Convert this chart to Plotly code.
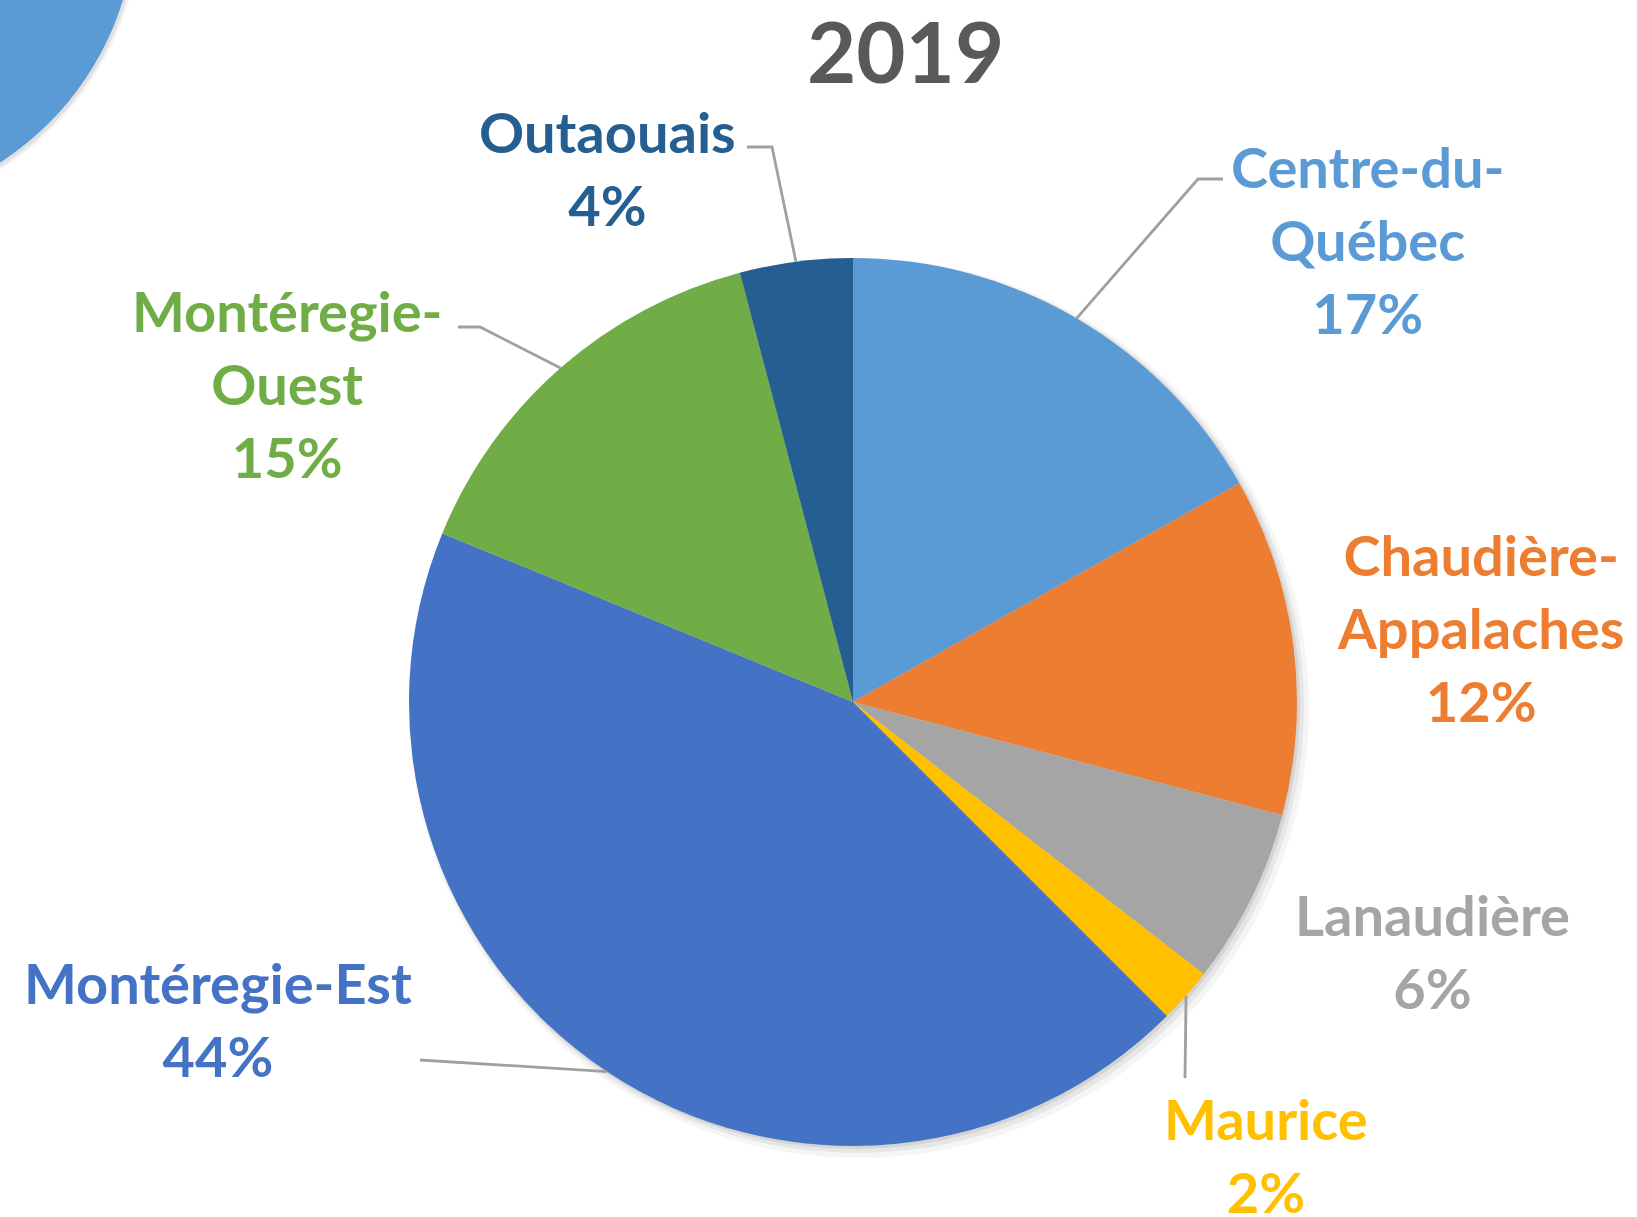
import math
import plotly.graph_objects as go

# ---------------- data ----------------
categories = ["Centre-du-Québec", "Chaudière-Appalaches", "Lanaudière", "Maurice",
              "Montéregie-Est", "Montéregie-Ouest", "Outaouais"]
label_lines = ["Centre-du-<br>Québec", "Chaudière-<br>Appalaches", "Lanaudière", "Maurice",
               "Montéregie-Est", "Montéregie-<br>Ouest", "Outaouais"]
values = [16.8, 12.3, 6.4, 2.0, 43.7, 14.7, 4.1]
title_text = "2019"

# ---------------- styles / layout ----------------
W, H = 1637, 1217
colors = ["#5B9BD5", "#ED7D31", "#A5A5A5", "#FFC000", "#4472C4", "#70AD47", "#255E91"]
CX, CY, R = 853, 702, 444  # pie centre/radius in pixels
FONT = "Lato"
LABEL_SIZE = 56

# label block centres (pixels) and leader elbows (pixels), per category
label_pos = {
    "Centre-du-Québec": (1368, 239),
    "Chaudière-Appalaches": (1480, 627),
    "Lanaudière": (1432, 951),
    "Maurice": (1266, 1155),
    "Montéregie-Est": (218, 1019),
    "Montéregie-Ouest": (287, 383),
    "Outaouais": (607, 168),
}
leader_pts = {
    "Centre-du-Québec": [(1223, 179), (1198, 179)],
    "Maurice": [(1185, 1078)],
    "Montéregie-Est": [(420, 1060)],
    "Montéregie-Ouest": [(458, 327), (480, 327)],
    "Outaouais": [(747, 147), (772, 147)],
}


def px(x):
    return x / W


def py(y):
    return 1 - y / H


fig = go.Figure()

fig.add_trace(go.Pie(
    labels=categories,
    values=values,
    sort=False,
    direction="clockwise",
    rotation=0,
    marker=dict(colors=colors, line=dict(width=0)),
    textinfo="none",
    hoverinfo="label+percent",
    showlegend=False,
    domain=dict(x=[px(CX - R), px(CX + R)], y=[py(CY + R), py(CY - R)]),
))

shapes = []
# soft shadow under the pie
for off, extra, alpha in [(6, 6, 0.04), (4, 3, 0.06), (2, 1, 0.08)]:
    shapes.append(dict(type="circle", xref="paper", yref="paper", layer="below",
                       x0=px(CX - R - extra + off), x1=px(CX + R + extra + off),
                       y0=py(CY + R + extra + off), y1=py(CY - R - extra + off),
                       fillcolor=f"rgba(0,0,0,{alpha})", line=dict(width=0)))

# partial circle of neighbouring chart at top-left
bcx, bcy, br = -161, -87, 297
for off, alpha in [(5, 0.05), (3, 0.07)]:
    shapes.append(dict(type="circle", xref="paper", yref="paper", layer="below",
                       x0=px(bcx - br), x1=px(bcx + br + off),
                       y0=py(bcy + br + off), y1=py(bcy - br),
                       fillcolor=f"rgba(0,0,0,{alpha})", line=dict(width=0)))
shapes.append(dict(type="circle", xref="paper", yref="paper", layer="above",
                   x0=px(bcx - br), x1=px(bcx + br), y0=py(bcy + br), y1=py(bcy - br),
                   fillcolor="#5B9BD5", line=dict(width=0)))

# leader lines and labels computed from slice mid-angles
total = sum(values)
cum = 0.0
annotations = []
for cat, lab, v, col in zip(categories, label_lines, values, colors):
    mid = (cum + v / 2) / total * 2 * math.pi
    cum += v
    ex = CX + R * math.sin(mid)
    ey = CY - R * math.cos(mid)
    if cat in leader_pts:
        pts = leader_pts[cat] + [(ex, ey)]
        path = "M " + " L ".join(f"{px(x):.5f},{py(y):.5f}" for x, y in pts)
        shapes.append(dict(type="path", xref="paper", yref="paper", path=path,
                           line=dict(color="#A0A0A0", width=2.8), layer="above"))
    pct = round(v / total * 100)
    lx, ly = label_pos[cat]
    annotations.append(dict(
        x=px(lx), y=py(ly), xref="paper", yref="paper",
        text=f"<b>{lab}<br>{pct}%</b>", showarrow=False,
        xanchor="center", yanchor="middle", align="center",
        font=dict(family=FONT, size=LABEL_SIZE, color=col),
    ))

annotations.append(dict(
    x=px(905), y=py(50), xref="paper", yref="paper",
    text=f"<b>{title_text}</b>", showarrow=False,
    xanchor="center", yanchor="middle",
    font=dict(family=FONT, size=85, color="#595959"),
))

fig.update_layout(
    width=W, height=H,
    margin=dict(l=0, r=0, t=0, b=0),
    paper_bgcolor="white",
    plot_bgcolor="white",
    shapes=shapes,
    annotations=annotations,
    showlegend=False,
)

fig.write_html("out.html",
               config={"displayModeBar": False},
               post_script="document.body.style.margin='0';document.body.style.overflow='hidden';")
